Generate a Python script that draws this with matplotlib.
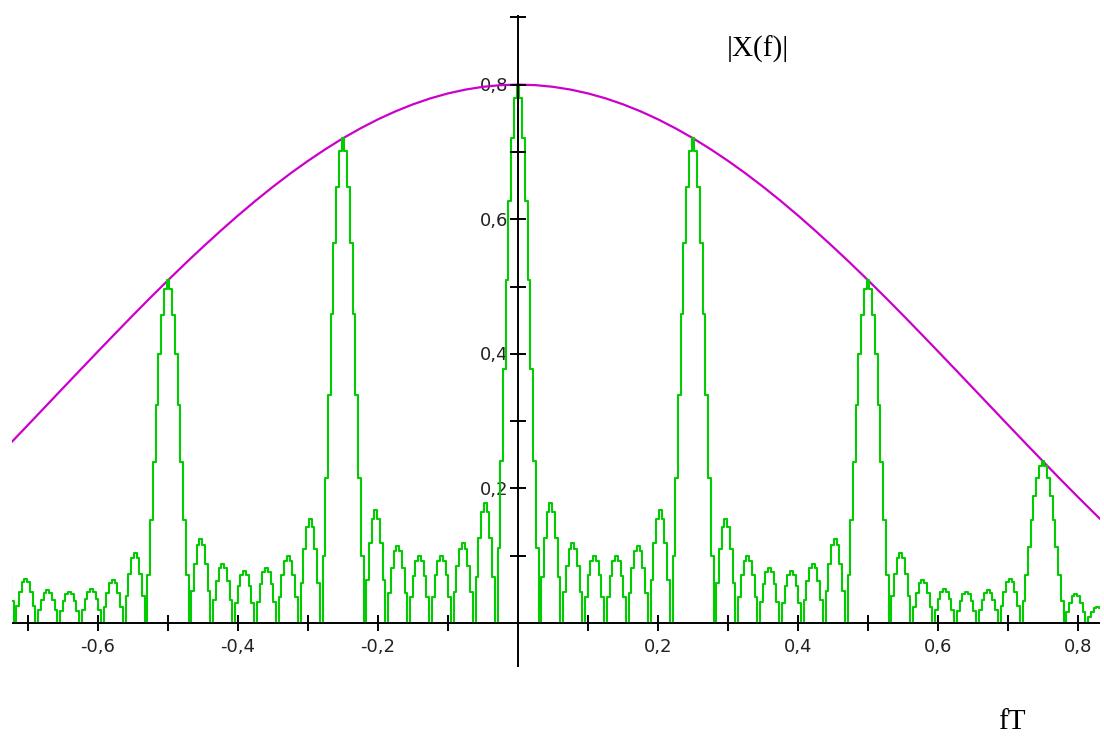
import matplotlib
matplotlib.use("Agg")
import matplotlib.pyplot as plt
from matplotlib.patches import Rectangle

# ---------------- data ----------------
# plotted domain of the curves (fT)
f_domain = [-0.723, 0.831]

# magenta envelope |X(f)|, sampled every 0.025 in fT
env_f = [-0.750, -0.725, -0.700, -0.675, -0.650, -0.625, -0.600, -0.575,
         -0.550, -0.525, -0.500, -0.475, -0.450, -0.425, -0.400, -0.375,
         -0.350, -0.325, -0.300, -0.275, -0.250, -0.225, -0.200, -0.175,
         -0.150, -0.125, -0.100, -0.075, -0.050, -0.025, 0.000, 0.025,
         0.050, 0.075, 0.100, 0.125, 0.150, 0.175, 0.200, 0.225,
         0.250, 0.275, 0.300, 0.325, 0.350, 0.375, 0.400, 0.425,
         0.450, 0.475, 0.500, 0.525, 0.550, 0.575, 0.600, 0.625,
         0.650, 0.675, 0.700, 0.725, 0.750, 0.775, 0.800, 0.825, 0.850]
env_v = [0.2401, 0.2671, 0.2943, 0.3217, 0.3491, 0.3764, 0.4036, 0.4306,
         0.4573, 0.4836, 0.5093, 0.5345, 0.5589, 0.5826, 0.6055, 0.6274,
         0.6483, 0.6681, 0.6867, 0.7041, 0.7203, 0.7350, 0.7484, 0.7603,
         0.7707, 0.7796, 0.7869, 0.7926, 0.7967, 0.7992, 0.8000, 0.7992,
         0.7967, 0.7926, 0.7869, 0.7796, 0.7707, 0.7603, 0.7484, 0.7350,
         0.7203, 0.7041, 0.6867, 0.6681, 0.6483, 0.6274, 0.6055, 0.5826,
         0.5589, 0.5345, 0.5093, 0.4836, 0.4573, 0.4306, 0.4036, 0.3764,
         0.3491, 0.3217, 0.2943, 0.2671, 0.2401, 0.2134, 0.1871, 0.1613, 0.1360]

# green line spectrum: main peaks
main_f = [-0.75, -0.50, -0.25, 0.00, 0.25, 0.50, 0.75]
main_v = [0.240, 0.509, 0.720, 0.800, 0.720, 0.509, 0.240]
# distance between consecutive zeros of the green curve
zero_spacing = 0.03125
# side-lobe peak heights following each main peak (left to right)
side_v = [
    [0.066, 0.049, 0.046, 0.050, 0.064, 0.104],
    [0.125, 0.088, 0.078, 0.082, 0.100, 0.155],
    [0.168, 0.115, 0.099, 0.100, 0.119, 0.179],
    [0.179, 0.119, 0.100, 0.099, 0.115, 0.168],
    [0.155, 0.100, 0.082, 0.078, 0.088, 0.125],
    [0.104, 0.064, 0.050, 0.046, 0.049, 0.066],
    [0.043, 0.024],
]

# axis ticks and labels
x_ticks = [-0.7, -0.6, -0.5, -0.4, -0.3, -0.2, -0.1, 0.1, 0.2, 0.3, 0.4, 0.5, 0.6, 0.7, 0.8]
x_labels = {-0.6: "-0,6", -0.4: "-0,4", -0.2: "-0,2", 0.2: "0,2", 0.4: "0,4", 0.6: "0,6", 0.8: "0,8"}
y_ticks = [0.1, 0.2, 0.3, 0.4, 0.5, 0.6, 0.7, 0.8, 0.9]
y_labels = {0.2: "0,2", 0.4: "0,4", 0.6: "0,6", 0.8: "0,8"}

# ---------------- lobe glyph shapes (style) ----------------
SIDE_SHAPE = [0.0, 0.383, 0.707, 0.924, 1.0, 0.924, 0.707, 0.383]
MAIN_SHAPE = [0.0, 0.139, 0.300, 0.471, 0.637, 0.784, 0.900, 0.975,
              1.0, 0.975, 0.900, 0.784, 0.637, 0.471, 0.300, 0.139]

GREEN = "#00cc00"
MAGENTA = "#cc00cc"
INK = "#000000"

fig = plt.figure(figsize=(11.04, 7.42), dpi=100)
ax = fig.add_axes([0, 0, 1, 1])
ax.set_xlim(-0.740, 0.8371)
ax.set_ylim(-0.1768, 0.9257)
ax.axis("off")

clip = Rectangle((f_domain[0], -1.0), f_domain[1] - f_domain[0], 3.0,
                 transform=ax.transData, fill=False, visible=False)
ax.add_patch(clip)

# axes through the origin
ax.plot(f_domain, [0, 0], color=INK, lw=1.4, solid_capstyle="butt", zorder=5)
ax.plot([0, 0], [-0.065, 0.903], color=INK, lw=1.4, solid_capstyle="butt", zorder=5)
ax.plot(x_ticks, [0] * len(x_ticks), ls="none", marker="|", ms=11, mew=1.4, color=INK, zorder=5)
ax.plot([0] * len(y_ticks), y_ticks, ls="none", marker="_", ms=11, mew=1.4, color=INK, zorder=5)

for xv, s in x_labels.items():
    ax.text(xv, -0.0431, s, ha="center", va="baseline", fontsize=13,
            family="DejaVu Sans", color="#222222")
for yv, s in y_labels.items():
    ax.text(-0.0143, yv - 0.0097, s, ha="right", va="baseline", fontsize=13,
            family="DejaVu Sans", color="#222222", zorder=2)

# magenta envelope
env_line, = ax.plot(env_f, env_v, color=MAGENTA, lw=1.6, zorder=3)
env_line.set_clip_path(clip)

# green spectrum built from lobes
step = zero_spacing / len(SIDE_SHAPE)
gx, gy = [], []
for c, h, sides in zip(main_f, main_v, side_v):
    for i, s in enumerate(MAIN_SHAPE):
        gx.append(c - zero_spacing + i * step)
        gy.append(h * s)
    for k, hs in enumerate(sides):
        start = c + zero_spacing * (k + 1)
        for i, s in enumerate(SIDE_SHAPE):
            gx.append(start + i * step)
            gy.append(hs * s)
gx.append(main_f[-1] + zero_spacing * (len(side_v[-1]) + 1))
gy.append(0.0)
g_line, = ax.plot(gx, gy, color=GREEN, lw=1.5, drawstyle="steps-mid", zorder=4)
g_line.set_clip_path(clip)

ax.text(0.2986, 0.841, "|X(f)|", ha="left", va="baseline", fontsize=21,
        family="Liberation Serif", color="#000000")
ax.text(0.6857, -0.1575, "fT", ha="left", va="baseline", fontsize=21,
        family="Liberation Serif", color="#000000")

fig.savefig("out.png", dpi=100, facecolor="white")
